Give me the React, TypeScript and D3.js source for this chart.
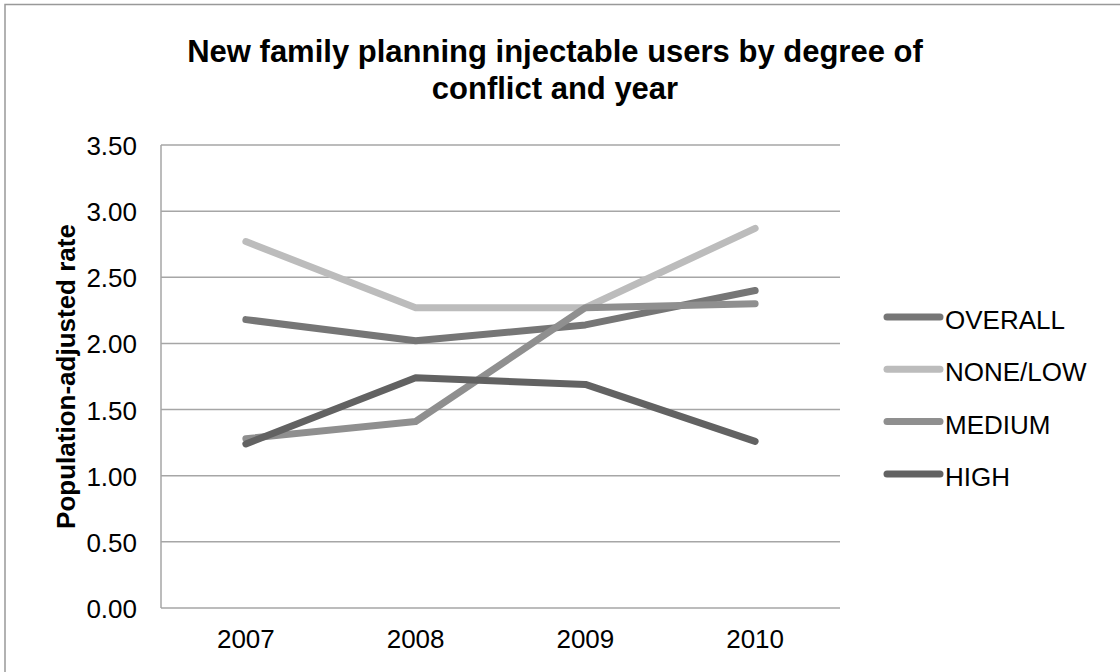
import React from "react";
import * as d3 from "d3";

const years = ["2007", "2008", "2009", "2010"];
const seriesNames = ["OVERALL", "NONE/LOW", "MEDIUM", "HIGH"];
const overall = [2.18, 2.02, 2.14, 2.4];
const noneLow = [2.77, 2.27, 2.27, 2.87];
const medium = [1.28, 1.41, 2.27, 2.3];
const high = [1.24, 1.74, 1.69, 1.26];
const colors = ["#767676", "#bcbcbc", "#8f8f8f", "#626262"];
const yTicks = [0, 0.5, 1, 1.5, 2, 2.5, 3, 3.5];

const W = 1120;
const H = 672;
const plot = { left: 161, right: 840, top: 145, bottom: 608 };
const font = "'Liberation Sans', Arial, sans-serif";

export default function App() {
  const values = [overall, noneLow, medium, high];
  const x = d3.scaleBand().domain(years).range([plot.left, plot.right]);
  const y = d3.scaleLinear().domain([0, 3.5]).range([plot.bottom, plot.top]);
  const line = d3
    .line<number>()
    .x((_, i) => (x(years[i]) as number) + x.bandwidth() / 2)
    .y((d) => y(d));

  return (
    <svg
      width={W}
      height={H}
      style={{ position: "absolute", left: 0, top: 0, background: "#fff" }}
      fontFamily={font}
    >
      <rect x={5} y={4.5} width={1130} height={690} fill="#fff" stroke="#999" strokeWidth={1.5} />
      <text textAnchor="middle" fontWeight="bold" fontSize={31} fill="#000">
        <tspan x={555} y={62}>New family planning injectable users by degree of</tspan>
        <tspan x={555} y={99}>conflict and year</tspan>
      </text>
      {yTicks.map((t) => (
        <g key={t}>
          <line x1={plot.left} x2={plot.right} y1={y(t)} y2={y(t)} stroke="#a6a6a6" strokeWidth={1.5} />
          <text x={137} y={y(t) + 10} textAnchor="end" fontSize={26} fill="#000">
            {t.toFixed(2)}
          </text>
        </g>
      ))}
      <line x1={plot.left} x2={plot.left} y1={plot.top} y2={plot.bottom} stroke="#a6a6a6" strokeWidth={1.5} />
      {years.map((yr) => (
        <text
          key={yr}
          x={(x(yr) as number) + x.bandwidth() / 2}
          y={plot.bottom + 40}
          textAnchor="middle"
          fontSize={26}
          fill="#000"
        >
          {yr}
        </text>
      ))}
      <text
        transform={`translate(75,${(plot.top + plot.bottom) / 2}) rotate(-90)`}
        textAnchor="middle"
        fontWeight="bold"
        fontSize={26}
        fill="#000"
      >
        Population-adjusted rate
      </text>
      {values.map((v, i) => (
        <path
          key={seriesNames[i]}
          d={line(v) as string}
          fill="none"
          stroke={colors[i]}
          strokeWidth={7}
          strokeLinecap="round"
          strokeLinejoin="round"
        />
      ))}
      {seriesNames.map((name, i) => {
        const ly = 317 + i * 52.3;
        return (
          <g key={name}>
            <line x1={887} x2={940} y1={ly} y2={ly} stroke={colors[i]} strokeWidth={7} strokeLinecap="round" />
            <text x={945} y={ly + 12} fontSize={26} fill="#000">
              {name}
            </text>
          </g>
        );
      })}
    </svg>
  );
}
